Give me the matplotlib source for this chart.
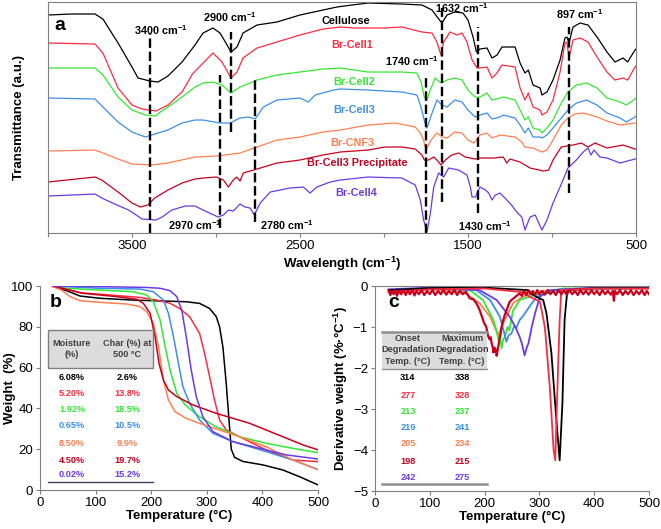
import numpy as np
import matplotlib
matplotlib.use("Agg")
import matplotlib.pyplot as plt
from matplotlib.patches import Rectangle

plt.rcParams['font.family'] = ['Liberation Sans', 'DejaVu Sans']
plt.rcParams['mathtext.fontset'] = 'custom'
plt.rcParams['mathtext.rm'] = 'Liberation Sans'
plt.rcParams['mathtext.bf'] = 'Liberation Sans:bold'
plt.rcParams['mathtext.default'] = 'bf'

# ---------------- data ----------------
names = ["Cellulose", "Br-Cell1", "Br-Cell2", "Br-Cell3", "Br-CNF3",
         "Br-Cell3 Precipitate", "Br-Cell4"]
colors = ["#000000", "#FF2A40", "#33E833", "#3C8FE6", "#FF7F50", "#C8001E", "#6A3AE8"]

# FTIR spectra (wavenumber, transmittance a.u.)
ftir_cell = [(4000, 218), (3860, 219), (3720, 219), (3673, 214), (3583, 190), (3500, 166),
             (3464, 155), (3393, 152), (3345, 151), (3286, 157), (3202, 171), (3125, 188),
             (3077, 200), (3018, 205), (2976, 200), (2934, 188), (2911, 181), (2875, 186),
             (2839, 200), (2756, 208), (2637, 211), (2500, 218), (2363, 223), (2280, 226),
             (2190, 228), (2095, 230), (1893, 229), (1774, 228), (1714, 223), (1679, 215),
             (1655, 210), (1625, 218), (1578, 221), (1530, 220), (1500, 213), (1470, 196),
             (1450, 181), (1429, 184), (1387, 185), (1357, 175), (1327, 178), (1298, 186),
             (1250, 186), (1220, 186), (1190, 170), (1161, 160), (1141, 163), (1113, 148),
             (1071, 145), (1060, 138), (1030, 141), (994, 153), (952, 173), (923, 195),
             (911, 196), (899, 190), (875, 206), (833, 210), (786, 208), (732, 196),
             (673, 181), (625, 171), (577, 175), (550, 171), (506, 183), (500, 184)]
ftir_cell1 = [(4000, 190), (3720, 189), (3673, 180), (3583, 145), (3500, 128), (3440, 124),
              (3357, 122), (3286, 128), (3202, 141), (3140, 159), (3077, 170), (3018, 180),
              (2964, 171), (2911, 155), (2875, 161), (2839, 175), (2756, 185), (2637, 191),
              (2500, 198), (2363, 204), (2260, 206), (2173, 205), (1994, 205), (1893, 206),
              (1774, 201), (1714, 200), (1685, 191), (1661, 178), (1645, 191), (1607, 201),
              (1565, 198), (1536, 200), (1506, 191), (1476, 173), (1446, 165), (1429, 165),
              (1387, 166), (1357, 155), (1327, 160), (1298, 168), (1220, 166), (1190, 145),
              (1161, 133), (1141, 140), (1113, 126), (1071, 123), (1060, 118), (1030, 121),
              (994, 133), (952, 161), (923, 190), (911, 191), (899, 175), (875, 193),
              (833, 195), (786, 191), (732, 176), (673, 161), (625, 153), (577, 155),
              (550, 153), (506, 166), (500, 167)]
ftir_cell2 = [(4000, 165), (3720, 165), (3673, 158), (3583, 136), (3500, 123), (3420, 118),
              (3357, 117), (3340, 120), (3286, 126), (3202, 136), (3125, 146), (3077, 150),
              (3018, 151), (2964, 148), (2911, 140), (2857, 146), (2797, 150), (2756, 153),
              (2637, 158), (2500, 161), (2363, 164), (2260, 165), (2095, 161), (1893, 161),
              (1804, 160), (1780, 151), (1760, 136), (1744, 133), (1725, 143), (1696, 155),
              (1661, 150), (1625, 153), (1578, 155), (1536, 153), (1500, 143), (1458, 136),
              (1429, 136), (1387, 140), (1357, 133), (1310, 135), (1290, 136), (1220, 133),
              (1190, 123), (1161, 113), (1141, 116), (1113, 105), (1071, 103), (1060, 100),
              (1030, 105), (994, 113), (945, 130), (905, 141), (855, 148), (795, 150),
              (732, 145), (673, 135), (595, 131), (557, 128), (506, 134), (500, 135)]
ftir_cell3 = [(4000, 135), (3720, 134), (3673, 126), (3583, 111), (3500, 101), (3420, 96),
              (3345, 100), (3286, 103), (3202, 110), (3125, 113), (3077, 113), (2976, 110),
              (2916, 110), (2857, 115), (2807, 116), (2767, 114), (2718, 126), (2637, 133),
              (2500, 135), (2450, 131), (2410, 138), (2300, 143), (2260, 144), (2095, 143),
              (1893, 141), (1804, 138), (1780, 126), (1756, 110), (1744, 105), (1714, 120),
              (1685, 133), (1655, 128), (1625, 126), (1578, 133), (1536, 131), (1500, 123),
              (1458, 116), (1429, 118), (1387, 120), (1357, 114), (1310, 116), (1290, 118),
              (1220, 115), (1190, 108), (1161, 100), (1141, 105), (1113, 96), (1071, 96),
              (1060, 95), (1030, 98), (994, 105), (945, 115), (905, 123), (855, 130),
              (795, 133), (732, 128), (673, 120), (595, 115), (557, 111), (506, 116), (500, 117)]
ftir_cnf3 = [(4000, 82), (3720, 83), (3673, 80), (3583, 74), (3500, 69), (3381, 68),
             (3286, 70), (3125, 76), (2997, 77), (2857, 80), (2756, 86), (2637, 93),
             (2500, 96), (2363, 101), (2260, 103), (2095, 108), (1933, 110), (1814, 106),
             (1784, 100), (1764, 93), (1756, 86), (1744, 85), (1720, 93), (1685, 100),
             (1655, 96), (1625, 95), (1578, 101), (1536, 100), (1500, 93), (1464, 90),
             (1429, 98), (1387, 100), (1357, 95), (1310, 98), (1220, 96), (1180, 91),
             (1161, 86), (1113, 85), (1060, 81), (1030, 83), (994, 93), (945, 108),
             (905, 115), (865, 119), (814, 120), (732, 116), (673, 112), (595, 108),
             (506, 110), (500, 110)]
ftir_prec = [(4000, 51), (3720, 56), (3680, 53), (3583, 41), (3500, 30), (3450, 26),
             (3405, 28), (3365, 35), (3286, 43), (3202, 50), (3125, 54), (3077, 55),
             (2997, 56), (2956, 53), (2926, 46), (2897, 53), (2877, 56), (2857, 52),
             (2837, 60), (2756, 64), (2637, 70), (2500, 73), (2363, 78), (2260, 81),
             (2095, 83), (1994, 86), (1893, 86), (1814, 84), (1774, 78), (1760, 73),
             (1735, 73), (1704, 76), (1685, 73), (1660, 68), (1635, 73), (1597, 78),
             (1556, 80), (1516, 76), (1458, 74), (1429, 75), (1346, 75), (1290, 76),
             (1270, 70), (1250, 74), (1190, 71), (1131, 65), (1050, 62), (1020, 63),
             (994, 73), (945, 86), (875, 88), (825, 90), (786, 86), (744, 90),
             (673, 85), (577, 88), (506, 84), (500, 84)]
ftir_cell4 = [(4000, 37), (3720, 39), (3680, 35), (3603, 29), (3520, 23), (3440, 14),
              (3357, 13), (3320, 16), (3263, 23), (3183, 27), (3125, 27), (3077, 23),
              (2987, 16), (2956, 18), (2926, 23), (2897, 22), (2857, 29), (2827, 26),
              (2797, 25), (2772, 18), (2737, 30), (2677, 41), (2560, 45), (2480, 46),
              (2440, 40), (2400, 46), (2320, 51), (2260, 53), (2095, 56), (1893, 55),
              (1814, 48), (1784, 33), (1764, 13), (1744, 1), (1724, 20), (1704, 46),
              (1675, 60), (1645, 56), (1615, 65), (1556, 63), (1506, 58), (1486, 46),
              (1476, 36), (1456, 36), (1429, 46), (1396, 43), (1377, 40), (1357, 33),
              (1337, 38), (1310, 40), (1280, 35), (1241, 28), (1210, 21), (1180, 16),
              (1161, 3), (1131, 16), (1100, 18), (1060, 3), (1030, 13), (994, 30),
              (952, 46), (905, 65), (855, 73), (814, 81), (786, 85), (768, 78),
              (750, 83), (714, 76), (673, 75), (595, 70), (506, 74), (500, 74)]
ftir_all = [ftir_cell, ftir_cell1, ftir_cell2, ftir_cell3, ftir_cnf3, ftir_prec, ftir_cell4]

# dashed marker lines: (wavenumber, y bottom, y top)
band_lines = [(3393, 0, 200), (2912, 101, 201), (2976, 5, 158), (2768, 11, 156),
              (1752, 0, 158), (1653, 31, 225), (1439, 20, 206), (897, 40, 206)]
band_labels = [("3400 cm$^{-1}$", 3327, 203), ("2900 cm$^{-1}$", 2917, 216),
               ("1740 cm$^{-1}$", 1833, 172), ("1632 cm$^{-1}$", 1536, 225),
               ("897 cm$^{-1}$", 833, 219), ("2970 cm$^{-1}$", 3125, 8),
               ("2780 cm$^{-1}$", 2577, 8), ("1430 cm$^{-1}$", 1399, 7)]
name_pos = [(2226, 212), (2190, 188), (2178, 151), (2178, 123), (2190, 90), (2160, 70), (2165, 40)]

# TGA (temperature C, weight %)
tga_cell = [(24, 99.7), (48, 97.7), (72, 95.1), (108, 94), (168, 93.1), (228, 92.6), (263, 92.3),
            (287, 91.5), (305, 89), (317, 85), (323, 80), (329, 70), (335, 52), (340, 34),
            (344, 20), (350, 16), (365, 14), (401, 12.3), (437, 9.8), (467, 6.5), (500, 2.5)]
tga_cell1 = [(24, 100), (72, 96.7), (126, 95.6), (180, 94.4), (210, 93.1), (234, 91.5), (251, 89),
             (269, 85), (287, 76.8), (296, 67), (305, 55.6), (314, 44), (323, 34.3), (335, 29.4),
             (359, 26.1), (407, 19.6), (455, 14.7), (500, 13.9)]
tga_cell2 = [(24, 100), (48, 98.9), (108, 98), (168, 97.2), (192, 95.6), (204, 92.3), (216, 83.3),
             (225, 70.3), (234, 58.8), (246, 47.4), (261, 41.7), (287, 35.9), (317, 31),
             (359, 26.1), (407, 22.9), (455, 20.4), (500, 18.3)]
tga_cell3 = [(24, 100), (108, 98.9), (180, 98.5), (204, 97.2), (222, 93.1), (231, 86.6),
             (240, 75.2), (249, 62.1), (257, 50.7), (269, 42.5), (287, 34.3), (311, 27.8),
             (347, 23.7), (407, 18.8), (455, 14.7), (500, 10.1)]
tga_cnf3 = [(21, 100), (39, 98), (54, 94.8), (72, 92.8), (108, 92), (156, 91.2), (180, 89.9),
            (192, 87.4), (204, 81.7), (213, 70.3), (222, 53.9), (231, 44.1), (243, 38.4),
            (263, 35.1), (287, 32.7), (323, 29.4), (359, 26.1), (407, 21.2), (455, 14.7),
            (500, 9.9)]
tga_prec = [(24, 100), (78, 96.4), (138, 94.8), (174, 93.5), (186, 91.5), (198, 86.6),
            (207, 75.2), (214, 62.1), (222, 53.9), (231, 49), (246, 45.8), (275, 41.7),
            (317, 37.6), (377, 32.7), (437, 26.1), (473, 22.1), (500, 19.7)]
tga_cell4 = [(24, 100), (108, 99.7), (192, 99.3), (216, 98.9), (234, 97.7), (246, 94.8),
             (255, 88.2), (263, 75.2), (272, 58.8), (281, 45.8), (293, 35.9), (311, 28.6),
             (347, 23.7), (395, 20.4), (443, 17.2), (500, 15.2)]
tga_all = [tga_cell, tga_cell1, tga_cell2, tga_cell3, tga_cnf3, tga_prec, tga_cell4]

moisture = ["6.08%", "5.20%", "1.92%", "0.65%", "8.50%", "4.50%", "0.02%"]
char500 = ["2.6%", "13.8%", "18.5%", "10.5%", "9.9%", "19.7%", "15.2%"]

# DTG (temperature C, derivative weight %/C)
dtg_cell = [(25, -0.1), (100, -0.05), (200, -0.04), (280, -0.1), (289, -0.22), (300, -0.3),
            (307, -0.34), (313, -0.67), (322, -1.64), (331, -3.27), (337, -4.25), (342, -2.87),
            (346, -0.83), (351, -0.1), (400, -0.05), (500, -0.05)]
dtg_cell1 = [(25, -0.15), (100, -0.08), (200, -0.06), (270, -0.15), (282, -0.26), (301, -0.38),
             (310, -1.0), (319, -2.46), (326, -4.0), (329, -4.25), (332, -2.87), (337, -0.83),
             (340, -0.1), (400, -0.06), (500, -0.06)]
dtg_cell2 = [(25, -0.12), (100, -0.06), (173, -0.1), (197, -0.34), (216, -0.83), (222, -1.1),
             (225, -1.3), (228, -1.2), (231, -1.52), (234, -1.3), (237, -1.24), (242, -1.0),
             (245, -1.08), (252, -0.59), (258, -0.48), (264, -0.34), (282, -0.26), (301, -0.18),
             (343, -0.06), (500, -0.05)]
dtg_cell3 = [(25, -0.12), (100, -0.06), (185, -0.1), (210, -0.34), (228, -0.75), (235, -1.1),
             (240, -1.36), (244, -1.2), (249, -1.16), (254, -0.98), (258, -1.02), (264, -0.83),
             (272, -0.7), (282, -0.5), (295, -0.26), (313, -0.18), (350, -0.08), (500, -0.05)]
dtg_cnf3 = [(25, -0.15), (100, -0.08), (161, -0.14), (191, -0.42), (210, -0.75), (225, -1.2),
            (234, -0.91), (252, -0.42), (270, -0.26), (300, -0.12), (500, -0.06)]
dtg_prec = [(25, -0.1), (28, -0.22), (31, -0.12), (34, -0.2), (37, -0.1), (40, -0.24),
            (44, -0.12), (48, -0.2), (52, -0.1), (56, -0.22), (60, -0.12), (64, -0.2),
            (68, -0.1), (72, -0.23), (76, -0.12), (80, -0.2), (85, -0.1), (90, -0.22),
            (95, -0.12), (100, -0.2), (105, -0.1), (110, -0.22), (115, -0.12), (120, -0.2),
            (125, -0.1), (130, -0.21), (135, -0.12), (140, -0.2), (145, -0.1), (150, -0.22),
            (155, -0.12), (160, -0.2), (166, -0.14), (173, -0.3), (179, -0.32), (185, -0.42),
            (190, -0.55), (194, -0.7), (199, -0.9), (203, -0.99), (206, -1.2), (209, -1.3),
            (211, -1.25), (213, -1.4), (215, -1.5), (216, -1.62), (218, -1.5), (219, -1.6),
            (221, -1.55), (222, -1.7), (224, -1.55), (225, -1.48), (227, -1.3), (229, -1.2),
            (231, -1.0), (234, -0.83), (237, -0.7), (240, -0.6), (243, -0.48), (246, -0.38),
            (250, -0.33), (255, -0.28), (260, -0.22), (264, -0.18), (268, -0.24), (272, -0.12),
            (276, -0.22), (280, -0.1), (284, -0.2), (288, -0.12), (292, -0.22), (296, -0.1),
            (300, -0.2), (305, -0.12), (310, -0.21), (315, -0.1), (320, -0.2), (325, -0.12),
            (330, -0.22), (335, -0.1), (340, -0.2), (345, -0.12), (350, -0.21), (355, -0.1),
            (360, -0.2), (365, -0.12), (370, -0.22), (375, -0.1), (380, -0.2), (385, -0.12),
            (390, -0.21), (395, -0.1), (400, -0.2), (405, -0.12), (410, -0.22), (415, -0.1),
            (420, -0.2), (425, -0.12), (430, -0.21), (434, -0.12), (436, -0.36), (438, -0.12),
            (442, -0.2), (447, -0.1), (452, -0.22), (457, -0.12), (462, -0.2), (467, -0.1),
            (472, -0.22), (477, -0.12), (482, -0.2), (487, -0.1), (492, -0.22), (496, -0.12),
            (500, -0.2)]
dtg_cell4 = [(25, -0.08), (100, -0.04), (191, -0.1), (222, -0.34), (246, -0.75), (258, -1.05),
             (264, -1.24), (268, -1.4), (273, -1.69), (277, -1.5), (280, -1.4), (286, -1.0),
             (292, -0.67), (301, -0.26), (319, -0.1), (400, -0.04), (500, -0.04)]
dtg_all = [dtg_cell, dtg_cell1, dtg_cell2, dtg_cell3, dtg_cnf3, dtg_prec, dtg_cell4]
dtg_order = [4, 2, 3, 6, 0, 1, 5]

onset = ["314", "277", "213", "219", "205", "198", "242"]
max_deg = ["338", "328", "237", "241", "234", "215", "275"]

# ---------------- figure ----------------
fig = plt.figure(figsize=(6.61, 5.29), dpi=100)
spine_col = "#7F7F7F"

# panel a
ax = fig.add_axes([0.0726, 0.5595, 0.8896, 0.4367])
for pts, c in zip(ftir_all, colors):
    arr = np.array(pts, dtype=float)
    ax.plot(arr[:, 0], arr[:, 1], color=c, lw=0.9)
for wn, y0, y1 in band_lines:
    ax.plot([wn, wn], [y0, y1], color="black", lw=1.7, dashes=(4, 1.6))
for txt, wn, y in band_labels:
    ax.text(wn, y, txt, fontsize=7.8, fontweight="bold", ha="center", va="center")
for nm, (wn, y), c in zip(names, name_pos, colors):
    ax.text(wn, y, nm, fontsize=7.8, fontweight="bold", ha="center", va="center", color=c)
ax.text(3960, 208, "a", fontsize=14, fontweight="bold", ha="left", va="center")
ax.set_xlim(4000, 500)
ax.set_ylim(0, 231)
ax.set_xticks([4000, 3500, 3000, 2500, 2000, 1500, 1000, 500])
ax.set_xticklabels(["", "3500", "", "2500", "", "1500", "", "500"])
ax.set_yticks([])
ax.tick_params(axis="x", labelsize=9.5, length=3, color=spine_col, pad=2)
for s in ax.spines.values():
    s.set_color(spine_col)
ax.set_xlabel("Wavelength (cm$^{-1}$)", fontsize=9.5, fontweight="bold", labelpad=2)
ax.set_ylabel("Transmittance (a.u.)", fontsize=9.5, fontweight="bold")
ax.yaxis.set_label_coords(-0.039, 0.5)

# panel b
bx = fig.add_axes([0.0605, 0.0737, 0.4206, 0.3856])
for pts, c in zip(tga_all, colors):
    arr = np.array(pts, dtype=float)
    bx.plot(arr[:, 0], arr[:, 1], color=c, lw=1.1)
bx.set_xlim(0, 500)
bx.set_ylim(0, 100)
bx.set_xticks(range(0, 501, 100))
bx.set_yticks(range(0, 101, 20))
bx.add_patch(Rectangle((14.4, 59.8), 188.6, 18.6, facecolor="#DCDCDC", edgecolor="#808080", lw=1.0, zorder=3))
bx.text(57.6, 69.1, "Moisture\n(%)", fontsize=6.6, fontweight="bold", ha="center", va="center", color="#404040", zorder=4, linespacing=1.3)
bx.text(156.5, 69.1, "Char (%) at\n500 \u00b0C", fontsize=6.6, fontweight="bold", ha="center", va="center", color="#404040", zorder=4, linespacing=1.3)
row_y = [55.4, 47.5, 39.7, 31.4, 23.0, 14.7, 7.4]
for m, ch, c, y in zip(moisture, char500, colors, row_y):
    bx.text(57.6, y, m, fontsize=6.6, fontweight="bold", ha="center", va="center", color=c)
    bx.text(156.5, y, ch, fontsize=6.6, fontweight="bold", ha="center", va="center", color=c)
bx.plot([14.4, 203], [3.9, 3.9], color="#404060", lw=1.0)
bx.text(18, 92, "b", fontsize=14, fontweight="bold", ha="left", va="center")
bx.set_xlabel("Temperature (\u00b0C)", fontsize=9.5, fontweight="bold", labelpad=1)
bx.set_ylabel("Weight  (%)", fontsize=9.5, fontweight="bold")
bx.yaxis.set_label_coords(-0.088, 0.5)

# panel c
cx = fig.add_axes([0.5673, 0.0718, 0.4145, 0.3875])
for i in dtg_order:
    arr = np.array(dtg_all[i], dtype=float)
    lw = 1.6 if i == 5 else 1.3
    cx.plot(arr[:, 0], arr[:, 1], color=colors[i], lw=lw)
cx.set_xlim(0, 500)
cx.set_ylim(-5, 0)
cx.set_xticks(range(0, 501, 100))
cx.set_yticks(range(-5, 1))
cx.add_patch(Rectangle((12.8, -2.03), 191.2, 0.92, facecolor="#DCDCDC", edgecolor="none", zorder=3))
cx.plot([12.8, 204], [-1.11, -1.11], color="#909090", lw=1.8, zorder=4)
cx.plot([12.8, 204], [-2.03, -2.03], color="#909090", lw=1.0, zorder=4)
cx.text(60, -1.56, "Onset\nDegradation\nTemp. (\u00b0C)", fontsize=6.6, fontweight="bold", ha="center", va="center", color="#404040", zorder=4, linespacing=1.3)
cx.text(159, -1.56, "Maximum\nDegradation\nTemp. (\u00b0C)", fontsize=6.6, fontweight="bold", ha="center", va="center", color="#404040", zorder=4, linespacing=1.3)
row_c = [-2.24, -2.66, -3.07, -3.46, -3.85, -4.27, -4.66]
for o, mx, c, y in zip(onset, max_deg, colors, row_c):
    cx.text(60, y, o, fontsize=6.6, fontweight="bold", ha="center", va="center", color=c)
    cx.text(159, y, mx, fontsize=6.6, fontweight="bold", ha="center", va="center", color=c)
cx.plot([12.8, 204], [-4.83, -4.83], color="#909090", lw=1.8)
cx.text(24, -0.41, "c", fontsize=14, fontweight="bold", ha="left", va="center")
cx.set_xlabel("Temperature (\u00b0C)", fontsize=9.5, fontweight="bold", labelpad=1)
cx.set_ylabel("Derivative weight (%\u00b7\u00b0C$^{-1}$)", fontsize=9.5, fontweight="bold")
cx.yaxis.set_label_coords(-0.091, 0.5)

for a in (bx, cx):
    a.spines["right"].set_visible(False)
    a.spines["left"].set_color(spine_col)
    a.spines["bottom"].set_color(spine_col)
    a.spines["top"].set_color(spine_col)
    a.tick_params(labelsize=9.5, length=3, color=spine_col, pad=2)
bx.spines["top"].set_visible(False)

fig.savefig("out.png", dpi=100)
